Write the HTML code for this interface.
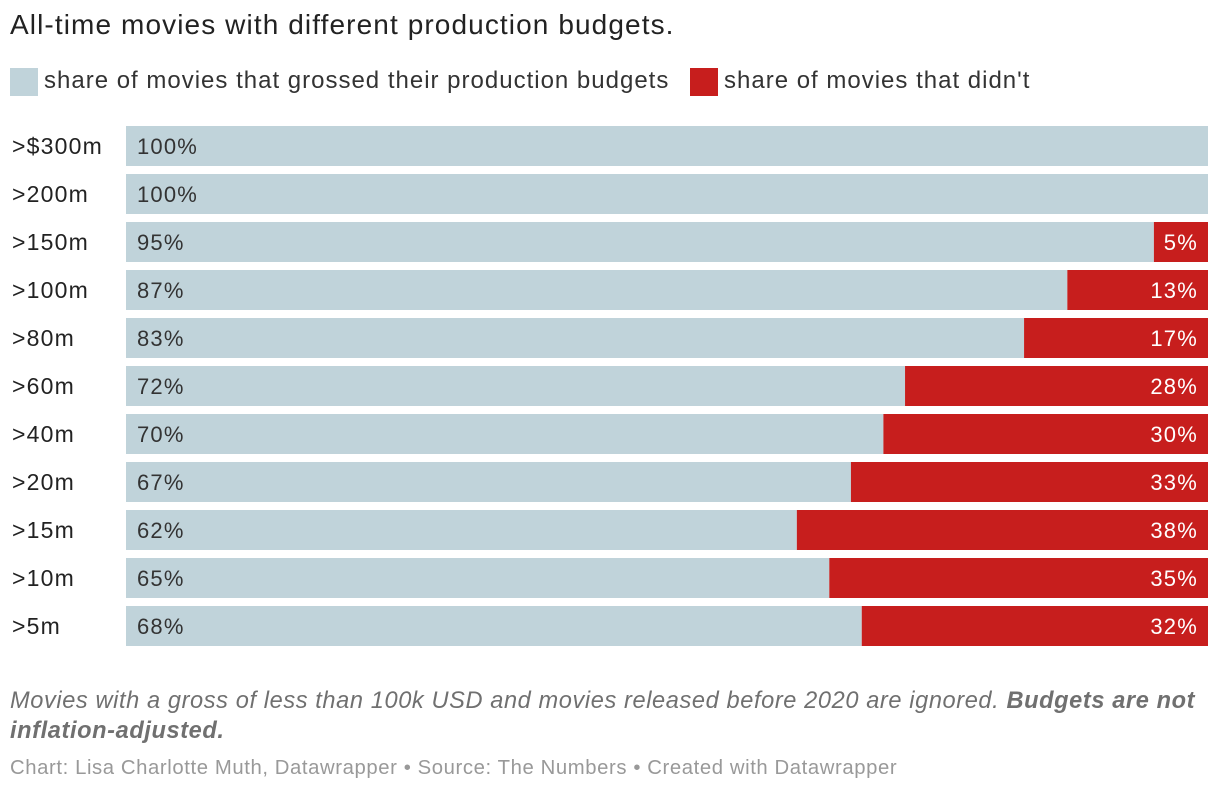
<!DOCTYPE html>
<html><head><meta charset="utf-8"><style>
body{margin:0;width:1220px;height:792px;background:#fff;font-family:"Liberation Sans",Arial,sans-serif;color:#222;position:relative;overflow:hidden}
.t{position:absolute;white-space:nowrap}
</style></head><body>
<div class="t" style="left:10px;top:9px;font-size:28px;letter-spacing:1.1px;color:#222">All-time movies with different production budgets.</div>
<div>
<div style="position:absolute;left:10px;top:68px;width:28px;height:28px;background:#c0d3da"></div>
<div class="t" style="left:44px;top:67px;font-size:24px;letter-spacing:1px;color:#333">share of movies that grossed their production budgets</div>
<div style="position:absolute;left:690px;top:68px;width:28px;height:28px;background:#c71e1d"></div>
<div class="t" style="left:724px;top:67px;font-size:24px;letter-spacing:1px;color:#333">share of movies that didn't</div>
</div>
<svg id="chart" width="1220" height="660" style="position:absolute;left:0;top:0"></svg>
<div class="t" style="left:10px;top:686px;font-size:23.6px;letter-spacing:0.6px;font-style:italic;color:#707070;line-height:30px;white-space:normal;width:1208px">Movies with a gross of less than 100k USD and movies released before 2020 are ignored. <b>Budgets are not inflation-adjusted.</b></div>
<div class="t" style="left:10px;top:757px;font-size:20.3px;letter-spacing:0.6px;color:#999">Chart: Lisa Charlotte Muth, Datawrapper • Source: The Numbers • Created with Datawrapper</div>
<script>
const categories=[">$300m",">200m",">150m",">100m",">80m",">60m",">40m",">20m",">15m",">10m",">5m"];
const grossed=[100,100,95,87,83,72,70,67,62,65,68];
const didnt=[0,0,5,13,17,28,30,33,38,35,32];
const svg=document.getElementById('chart');
const NS='http://www.w3.org/2000/svg';
const x0=126,x1=1208;
const xs=v=>x0+(x1-x0)*v/100;
const ys=i=>126+48*i;
const bh=40;
function mk(tag,attrs){const e=document.createElementNS(NS,tag);for(const k in attrs)e.setAttribute(k,attrs[k]);svg.appendChild(e);return e;}
categories.forEach((c,i)=>{
  const y=ys(i);
  const lab=mk('text',{x:12,y:y+bh/2+8,'font-size':23,'letter-spacing':1.2,fill:'#222'});
  lab.textContent=c;
  
  
  const total=grossed[i]+didnt[i];
  const r1=mk('rect',{x:x0,y:y,width:xs(grossed[i]/total*100)-x0,height:bh,fill:'#c0d3da'});
  
  
  const t1=mk('text',{x:x0+11,y:y+bh/2+8,'font-size':22,'letter-spacing':1.2,fill:'#333'});
  t1.textContent=grossed[i]+'%';
  
  
  if(didnt[i]>0){
    const sx=xs(grossed[i]/total*100);
    const r2=mk('rect',{x:sx,y:y,width:x1-sx,height:bh,fill:'#c71e1d'});
    
    
    const t2=mk('text',{x:x1-10,y:y+bh/2+8,'font-size':22,'letter-spacing':1.2,fill:'#fff','text-anchor':'end'});
    t2.textContent=didnt[i]+'%';
    
    
  }
});
</script>
</body></html>
